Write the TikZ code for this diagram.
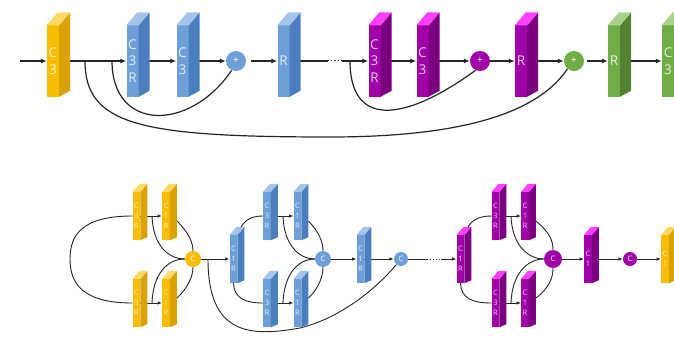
\documentclass[tikz,border=0pt]{standalone}
\usepackage{fontspec}
\setmainfont{Open Sans}
\usetikzlibrary{arrows.meta,calc,backgrounds}
\definecolor{yelF}{HTML}{F8BC00}\definecolor{yelS}{HTML}{D9A200}\definecolor{yelT}{HTML}{FFD966}
\definecolor{bluF}{HTML}{6F9FD8}\definecolor{bluS}{HTML}{4A7EBF}\definecolor{bluT}{HTML}{A4C4EA}
\definecolor{purF}{HTML}{A000A8}\definecolor{purS}{HTML}{7A0080}\definecolor{purT}{HTML}{FF40FF}
\definecolor{grnF}{HTML}{70AD47}\definecolor{grnS}{HTML}{548235}\definecolor{grnT}{HTML}{A9D18E}
\tikzset{
  conn/.style={draw=black!85,line width=1.2pt},
  connarrow/.style={conn,-{Latex[length=6pt,width=5pt]}},
  sconn/.style={draw=black!85,line width=0.9pt},
  sconnarrow/.style={sconn,-{Latex[length=4.5pt,width=3.5pt]}},
  bigcirc/.style={circle,inner sep=0pt,minimum size=20pt,fill=#1,text=white,font=\fontsize{10}{10}\selectfont},
  midcirc/.style={circle,inner sep=0pt,minimum size=16pt,fill=#1,text=white,font=\fontsize{7.5}{7.5}\selectfont},
  tinycirc/.style={circle,inner sep=0pt,minimum size=14pt,fill=#1,text=white,font=\fontsize{7.5}{7.5}\selectfont},
}
\newcommand\slabgen[7]{%
  \node[inner sep=0pt,fill=#6F,minimum width=#4pt,minimum height=#5pt,text=white!80!#6F,align=center,font=\sfont] (#1) at (#2,#3) {#7};
  \fill[#6S] (#1.north east) -- ++(\sdx,-\sdt) -- ($(#1.south east)+(\sdx,-\sdb)$) -- (#1.south east) -- cycle;
  \fill[#6T] (#1.north west) -- ++(\sdx,-\sdt) -- ($(#1.north east)+(\sdx,-\sdt)$) -- (#1.north east) -- cycle;
}
\newcommand\bigslab[4]{\def\sdx{11}\def\sdt{13}\def\sdb{6}\def\sfont{\fontsize{13.5}{16.5}\selectfont}\slabgen{#1}{#2}{61}{12}{71}{#3}{#4}}
\newcommand\smallslab[5]{\def\sdx{7}\def\sdt{8}\def\sdb{3}\def\sfont{\fontsize{7.5}{9.8}\selectfont}\slabgen{#1}{#2}{#3}{7.5}{48}{#4}{#5}}
\begin{document}
\begin{tikzpicture}[x=1pt,y=-1pt]
\useasboundingbox (0,0) rectangle (674,337);
\clip (0,0) rectangle (674,337);
% ---------- top row ----------
\bigslab{y1}{53}{yel}{C\\3}
\bigslab{b1}{132.5}{blu}{C\\3\\R}
\bigslab{b2}{182.5}{blu}{C\\3}
\node[bigcirc=bluF] (bp) at (236,61) {+};
\bigslab{b3}{283.5}{blu}{R}
\bigslab{p1}{374.5}{pur}{C\\3\\R}
\bigslab{p2}{422.5}{pur}{C\\3}
\node[bigcirc=purF] (pp) at (480,61) {+};
\bigslab{p3}{521}{pur}{R}
\node[bigcirc=grnF] (gp) at (574,61) {+};
\bigslab{g1}{614}{grn}{R}
\bigslab{g2}{668}{grn}{C\\3}
\coordinate (tin) at (20,61);
\coordinate (d1) at (328,61);
\coordinate (d2) at (342,61);
\coordinate (s1) at (85,61);
\coordinate (s2) at (112,61);
\coordinate (s3) at (350,61);
% ---------- bottom row ----------
\smallslab{yt1}{136.5}{216}{yel}{C\\3\\R}
\smallslab{yt2}{166}{216}{yel}{C\\1\\R}
\smallslab{yb1}{136.5}{303}{yel}{C\\3\\R}
\smallslab{yb2}{166}{303}{yel}{C\\1\\R}
\node[midcirc=yelF] (yC) at (193,259) {C};
\smallslab{bm}{233.5}{259}{blu}{C\\1\\R}
\smallslab{bt1}{267}{216}{blu}{C\\3\\R}
\smallslab{bt2}{297.5}{216}{blu}{C\\1\\R}
\smallslab{bb1}{267}{303}{blu}{C\\3\\R}
\smallslab{bb2}{297.5}{303}{blu}{C\\1\\R}
\node[midcirc=bluF] (bC) at (323,259) {C};
\smallslab{bm2}{360.5}{259}{blu}{C\\1\\R}
\node[tinycirc=bluF] (bC2) at (401,259) {C};
\smallslab{pm}{460.5}{259}{pur}{C\\1\\R}
\smallslab{pt1}{495.5}{216}{pur}{C\\3\\R}
\smallslab{pt2}{525}{216}{pur}{C\\1\\R}
\smallslab{pb1}{495.5}{303}{pur}{C\\3\\R}
\smallslab{pb2}{525}{303}{pur}{C\\1\\R}
\node[midcirc=purF,minimum size=18pt] (pC) at (553,259) {C};
\smallslab{pm2}{588}{259}{pur}{C\\1}
\node[tinycirc=purF] (pC2) at (630,259) {C};
\smallslab{yC1}{665}{259}{yel}{C\\1}
\coordinate (ya) at (152,216);
\coordinate (yb) at (152,303);
\coordinate (yto) at ($(yt2.east)+(7,5)$);
\coordinate (ybo) at ($(yb2.east)+(7,-5)$);
\coordinate (yd) at (208,259);
\coordinate (ba) at (283,216);
\coordinate (bb) at (283,303);
\coordinate (bto) at ($(bt2.east)+(7,5)$);
\coordinate (bbo) at ($(bb2.east)+(7,-5)$);
\coordinate (e1) at (427,259);
\coordinate (e2) at (441,259);
\coordinate (pa) at (511,216);
\coordinate (pb) at (511,303);
\coordinate (pto) at ($(pt2.east)+(7,5)$);
\coordinate (pbo) at ($(pb2.east)+(7,-5)$);
\coordinate (lft) at (70,259);
\begin{scope}[on background layer]
\fill[white] (0,0) rectangle (674,337);
% top connectors
\draw[connarrow] (tin) -- (y1.west);
\draw[connarrow] (y1.east) -- (b1.west);
\draw[connarrow] (b1.east) -- (b2.west);
\draw[connarrow] (b2.east) -- (bp.west);
\draw[connarrow,shorten <=5pt] (bp.east) -- (b3.west);
\draw[conn] (b3.east) -- (d1);
\draw[conn,dotted,line width=1pt] (d1) -- (d2);
\draw[connarrow] (d2) -- (p1.west);
\draw[connarrow] (p1.east) -- (p2.west);
\draw[connarrow] (p2.east) -- (pp.west);
\draw[connarrow] (pp.east) -- (p3.west);
\draw[connarrow] (p3.east) -- (gp.west);
\draw[connarrow,shorten <=3pt] (gp.east) -- (g1.west);
\draw[connarrow] (g1.east) -- (g2.west);
\draw[conn] (s2) .. controls (112,132) and (190,132) .. (bp.-115);
\draw[conn] (s1) .. controls (85,125) and (140,137) .. (330,137) .. controls (470,137) and (540,110) .. (gp.-130);
\draw[conn] (s3) .. controls (350,125) and (400,125) .. (pp.-115);
% bottom: yellow module
\draw[sconn] (yt1.west) .. controls (82,216) and (70,235) .. (lft) .. controls (70,283) and (82,303) .. (yb1.west);
\draw[sconnarrow] (yt1.east) -- (yt2.west);
\draw[sconnarrow] (yb1.east) -- (yb2.west);
\draw[sconn] (ya) .. controls (153,245) and (168,259) .. (yC.west);
\draw[sconn] (yb) .. controls (153,273) and (168,259) .. (yC.west);
\draw[sconn] (yto) .. controls (188,232) and (193,242) .. (yC.north);
\draw[sconn] (ybo) .. controls (188,288) and (193,276) .. (yC.south);
\draw[sconnarrow] (yC.east) -- (bm.west);
\draw[sconn] (yd) .. controls (208,335) and (250,337) .. (300,328) .. controls (340,318) and (375,290) .. (bC2.-130);
% blue module
\draw[sconn] (bm.north east) .. controls (242,221) and (250,216) .. (bt1.west);
\draw[sconn] (bm.south) .. controls (234,298) and (245,303) .. (bb1.west);
\draw[sconnarrow] (bt1.east) -- (bt2.west);
\draw[sconnarrow] (bb1.east) -- (bb2.west);
\draw[sconn] (ba) .. controls (284,245) and (299,259) .. (bC.west);
\draw[sconn] (bb) .. controls (284,273) and (299,259) .. (bC.west);
\draw[sconn] (bto) .. controls (319,232) and (323,242) .. (bC.north);
\draw[sconn] (bbo) .. controls (319,288) and (323,276) .. (bC.south);
\draw[sconnarrow] (bC.east) -- (bm2.west);
\draw[sconnarrow] (bm2.east) -- (bC2.west);
\draw[sconn] (bC2.east) -- (e1);
\draw[sconn,dotted] (e1) -- (e2);
\draw[sconnarrow] (e2) -- (pm.west);
% purple module
\draw[sconn] (pm.north east) .. controls (469,221) and (477,216) .. (pt1.west);
\draw[sconn] (pm.south) .. controls (461,298) and (472,303) .. (pb1.west);
\draw[sconnarrow] (pt1.east) -- (pt2.west);
\draw[sconnarrow] (pb1.east) -- (pb2.west);
\draw[sconn] (pa) .. controls (512,245) and (528,259) .. (pC.west);
\draw[sconn] (pb) .. controls (512,273) and (528,259) .. (pC.west);
\draw[sconn] (pto) .. controls (549,232) and (553,240) .. (pC.north);
\draw[sconn] (pbo) .. controls (549,288) and (553,278) .. (pC.south);
\draw[sconnarrow] (pC.east) -- (pm2.west);
\draw[sconnarrow] (pm2.east) -- (pC2.west);
\draw[sconnarrow] (pC2.east) -- (yC1.west);
\end{scope}
\end{tikzpicture}
\end{document}
